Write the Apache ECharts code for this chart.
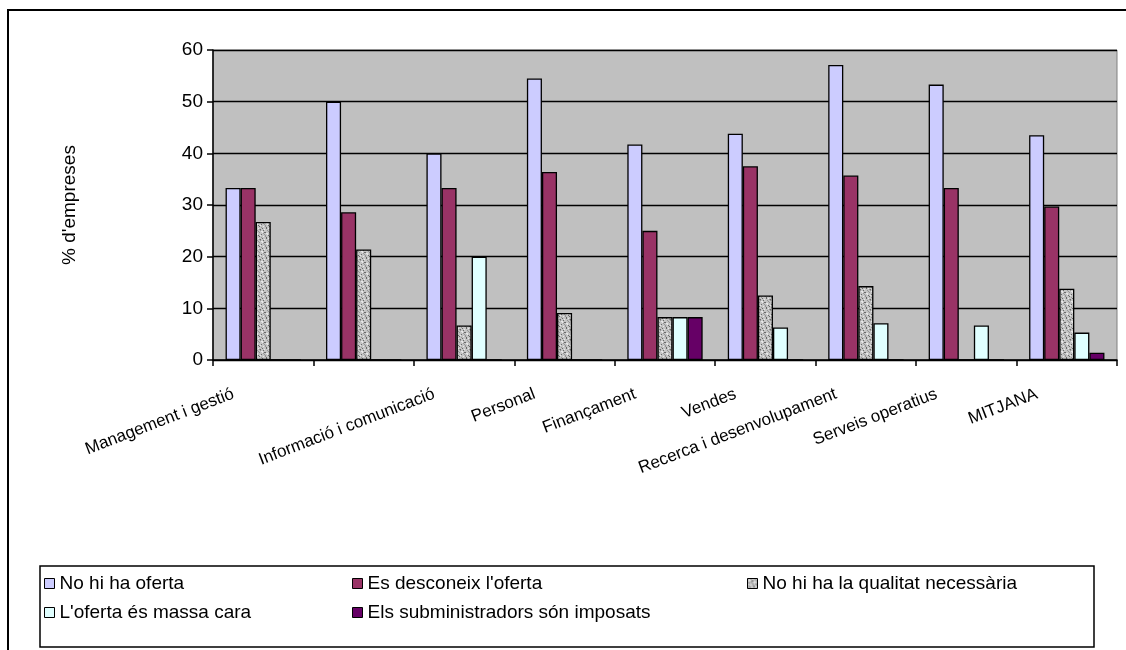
<!DOCTYPE html>
<html>
<head>
<meta charset="utf-8">
<script src="https://cdn.jsdelivr.net/npm/echarts@6/dist/echarts.min.js"></script>
<style>
html,body{margin:0;padding:0;background:#fff;}
#chart{width:1126px;height:650px;}
</style>
</head>
<body>
<div id="chart"></div>
<script>
const categories = ['Management i gestió', '', 'Informació i comunicació', 'Personal', 'Finançament', 'Vendes', 'Recerca i desenvolupament', 'Serveis operatius', 'MITJANA'];
const seriesNames = ['No hi ha oferta', "Es desconeix l'oferta", 'No hi ha la qualitat necessària', "L'oferta és massa cara", 'Els subministradors són imposats'];
const noHiHaOferta = [33.3, 50.0, 40.0, 54.5, 41.7, 43.8, 57.1, 53.3, 43.5];
const esDesconeix = [33.3, 28.6, 33.3, 36.4, 25.0, 37.5, 35.7, 33.3, 29.7];
const qualitat = [26.7, 21.4, 6.7, 9.1, 8.3, 12.5, 14.3, 0, 13.8];
const massaCara = [0, 0, 20.0, 0, 8.3, 6.3, 7.1, 6.7, 5.3];
const imposats = [0, 0, 0, 0, 8.3, 0, 0, 0, 1.4];
const yTicks = [0, 10, 20, 30, 40, 50, 60];

// speckled grey texture for the "qualitat" series
function makePattern() {
  const c = document.createElement('canvas');
  c.width = 10; c.height = 10;
  const ctx = c.getContext('2d');
  ctx.fillStyle = '#c4c4c4';
  ctx.fillRect(0, 0, 10, 10);
  ctx.fillStyle = '#e8e8e8';
  [[1,1],[2,1],[6,3],[7,3],[3,6],[8,8],[4,9],[0,5],[2,2],[7,4]].forEach(p => ctx.fillRect(p[0], p[1], 1, 1));
  ctx.fillStyle = '#6a6a6a';
  [[4,2],[5,2],[1,4],[8,5],[9,6],[2,8],[6,7],[6,8],[0,9],[3,0]].forEach(p => ctx.fillRect(p[0], p[1], 1, 1));
  ctx.fillStyle = '#959595';
  [[0,0],[3,3],[7,0],[5,5],[9,9],[1,7],[8,1],[4,4],[5,6],[9,2]].forEach(p => ctx.fillRect(p[0], p[1], 1, 1));
  return c;
}
const pattern = { image: makePattern(), repeat: 'repeat' };

const colors = ['#CCCCFF', '#993366', pattern, '#E0FFFF', '#660066'];
const dataSets = [noHiHaOferta, esDesconeix, qualitat, massaCara, imposats];
const FONT = 'Arial, "Liberation Sans", sans-serif';

const legendPos = [[44, 574], [352, 574], [747, 574], [44, 603], [352, 603]];

const chart = echarts.init(document.getElementById('chart'), null, { renderer: 'canvas' });
chart.setOption({
  animation: false,
  backgroundColor: '#ffffff',
  textStyle: { fontFamily: FONT, color: '#000' },
  grid: {
    left: 213, right: 9, top: 50, bottom: 290,
    show: true, backgroundColor: '#C0C0C0', borderColor: '#808080', borderWidth: 1
  },
  legend: seriesNames.map((n, i) => ({
    data: [n],
    left: legendPos[i][0], top: legendPos[i][1],
    icon: 'rect', itemWidth: 10, itemHeight: 10,
    itemStyle: { borderColor: '#000', borderWidth: 1 },
    textStyle: { fontFamily: FONT, fontSize: 19, color: '#000' },
    selectedMode: false, padding: 0
  })),
  xAxis: {
    type: 'category',
    data: categories,
    axisLine: { lineStyle: { color: '#000', width: 1.5 } },
    axisTick: { show: true, length: 6, lineStyle: { color: '#000', width: 1.5 } },
    axisLabel: {
      interval: 0, rotate: 21, margin: 22, fontSize: 17, color: '#000',
      fontFamily: FONT, padding: [0, 32, 0, 0]
    },
    splitLine: { show: false }
  },
  yAxis: {
    type: 'value', min: 0, max: 60, interval: 10,
    name: "% d'empreses", nameLocation: 'middle', nameGap: 134,
    nameTextStyle: { fontSize: 19, color: '#000', fontFamily: FONT },
    axisLine: { show: true, lineStyle: { color: '#000', width: 1.5 } },
    axisTick: { show: true, length: 6, lineStyle: { color: '#000', width: 1.5 } },
    axisLabel: { fontSize: 19, color: '#000', margin: 10, fontFamily: FONT,
      formatter: v => (yTicks.indexOf(v) >= 0 ? String(v) : '') },
    splitLine: { show: true, lineStyle: { color: '#000', width: 1.3 } }
  },
  series: seriesNames.map((n, i) => ({
    name: n, type: 'bar', data: dataSets[i],
    barGap: '0%', barCategoryGap: '25%',
    itemStyle: { color: colors[i], borderColor: '#000', borderWidth: 1.3 },
    emphasis: { disabled: true }
  })),
  graphic: [
    { type: 'rect', shape: { x: 8, y: 10, width: 1200, height: 700 }, style: { fill: 'none', stroke: '#000', lineWidth: 2 }, silent: true, z: 100 },
    { type: 'rect', shape: { x: 40, y: 566, width: 1054, height: 81 }, style: { fill: 'none', stroke: '#000', lineWidth: 1.5 }, silent: true, z: 100 }
  ]
});
</script>
</body>
</html>
